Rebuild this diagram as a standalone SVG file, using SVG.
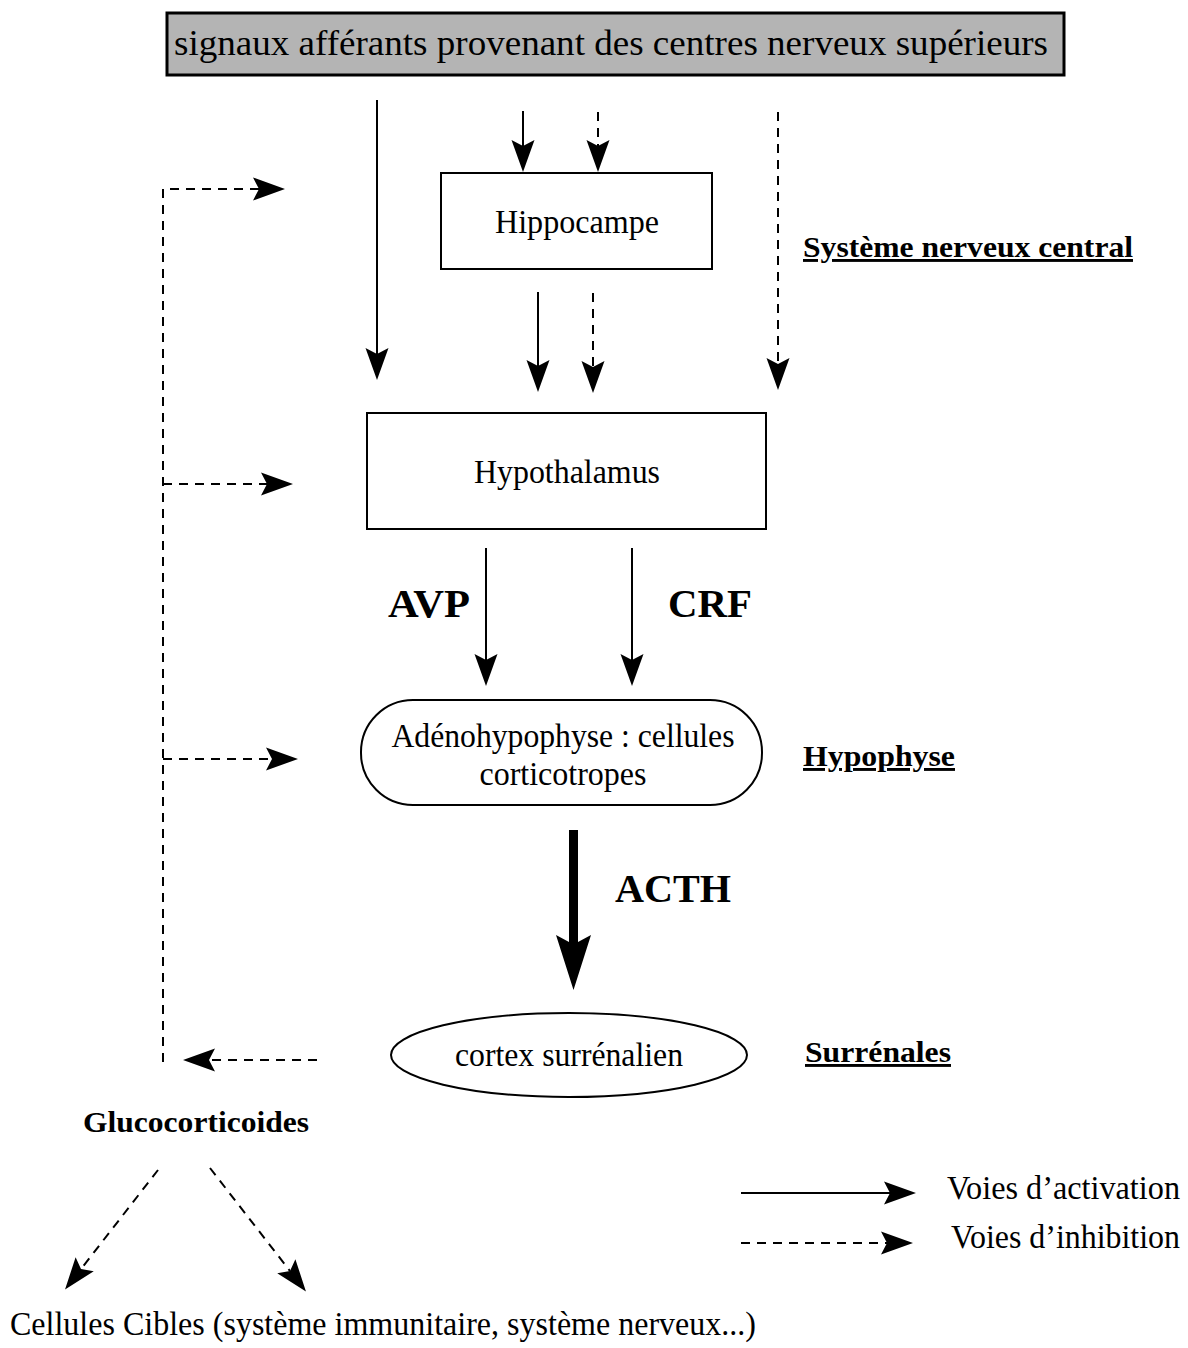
<svg xmlns="http://www.w3.org/2000/svg" width="1188" height="1348" viewBox="0 0 1188 1348">
<style>
  text { font-family: "Liberation Serif", "Times New Roman", serif; fill: #000; }
  .reg { font-size: 33px; }
  .lbl { font-size: 29px; font-weight: bold; text-decoration: underline; }
  .hor { font-size: 40px; font-weight: bold; }
  .box { fill: #fff; stroke: #000; stroke-width: 2; }
  .s { stroke: #000; stroke-width: 2; fill: none; }
  .d { stroke: #000; stroke-width: 2; fill: none; stroke-dasharray: 9 7; }
</style>
<defs>
  <marker id="ah" viewBox="-7 -13 34 26" refX="0" refY="0" markerWidth="34" markerHeight="26" markerUnits="userSpaceOnUse" orient="auto">
    <path d="M0,0 L-6,-11.5 L26,0 L-6,11.5 Z" fill="#000"/>
  </marker>
</defs>

<g id="top">
  <rect x="167" y="13" width="897" height="62" fill="#b4b4b4" stroke="#000" stroke-width="3"/>
  <text x="174" y="55" font-size="36" textLength="874" lengthAdjust="spacingAndGlyphs">signaux afférants provenant des centres nerveux supérieurs</text>
</g>

<g id="hippocampe">
  <rect class="box" x="441" y="173" width="271" height="96"/>
  <text class="reg" x="577" y="233" text-anchor="middle" textLength="164" lengthAdjust="spacingAndGlyphs">Hippocampe</text>
</g>

<g id="snc-label">
  <text class="lbl" x="803" y="257" textLength="330" lengthAdjust="spacingAndGlyphs">Système nerveux central</text>
</g>

<g id="hypothalamus">
  <rect class="box" x="367" y="413" width="399" height="116"/>
  <text class="reg" x="567" y="483" text-anchor="middle" textLength="186" lengthAdjust="spacingAndGlyphs">Hypothalamus</text>
</g>

<g id="adenohypophyse">
  <rect class="box" x="361" y="700" width="401" height="105" rx="52" ry="52"/>
  <text class="reg" x="563" y="747" text-anchor="middle" textLength="343" lengthAdjust="spacingAndGlyphs">Adénohypophyse : cellules</text>
  <text class="reg" x="563" y="785" text-anchor="middle" textLength="167" lengthAdjust="spacingAndGlyphs">corticotropes</text>
</g>

<g id="hypophyse-label">
  <text class="lbl" x="803" y="766" textLength="152" lengthAdjust="spacingAndGlyphs">Hypophyse</text>
</g>

<g id="cortex">
  <ellipse class="box" cx="569" cy="1055" rx="178" ry="42"/>
  <text class="reg" x="569" y="1066" text-anchor="middle" textLength="228" lengthAdjust="spacingAndGlyphs">cortex surrénalien</text>
</g>

<g id="surrenales-label">
  <text class="lbl" x="805" y="1062" textLength="146" lengthAdjust="spacingAndGlyphs">Surrénales</text>
</g>

<g id="glucocorticoides">
  <text x="83" y="1132" font-size="29" font-weight="bold" textLength="226" lengthAdjust="spacingAndGlyphs">Glucocorticoides</text>
</g>

<g id="cibles">
  <text class="reg" x="10" y="1335" textLength="746" lengthAdjust="spacingAndGlyphs">Cellules Cibles (système immunitaire, système nerveux...)</text>
</g>

<g id="hormones">
  <text class="hor" x="388" y="617" textLength="82" lengthAdjust="spacingAndGlyphs">AVP</text>
  <text class="hor" x="668" y="617" textLength="84" lengthAdjust="spacingAndGlyphs">CRF</text>
  <text class="hor" x="615" y="902" textLength="116" lengthAdjust="spacingAndGlyphs">ACTH</text>
</g>

<g id="connectors">
  <line class="s" x1="377" y1="100" x2="377" y2="354" marker-end="url(#ah)"/>
  <line class="s" x1="523" y1="111" x2="523" y2="146" marker-end="url(#ah)"/>
  <line class="d" x1="598" y1="112" x2="598" y2="146" marker-end="url(#ah)"/>
  <line class="d" x1="778" y1="112" x2="778" y2="364" marker-end="url(#ah)"/>
  <line class="s" x1="538" y1="292" x2="538" y2="366" marker-end="url(#ah)"/>
  <line class="d" x1="593" y1="293" x2="593" y2="367" marker-end="url(#ah)"/>
  <line class="s" x1="486" y1="548" x2="486" y2="660" marker-end="url(#ah)"/>
  <line class="s" x1="632" y1="548" x2="632" y2="660" marker-end="url(#ah)"/>
  <path d="M569,830 L578,830 L578,942 L591,935 L573.5,990 L556,935 L569,942 Z" fill="#000"/>
  <polyline class="d" points="163,1062 163,189 259,189" marker-end="url(#ah)"/>
  <line class="d" x1="163" y1="484" x2="267" y2="484" marker-end="url(#ah)"/>
  <line class="d" x1="163" y1="759" x2="272" y2="759" marker-end="url(#ah)"/>
  <line class="d" x1="317" y1="1060" x2="209" y2="1060" marker-end="url(#ah)"/>
  <line class="d" x1="158" y1="1170" x2="81" y2="1269" marker-end="url(#ah)"/>
  <line class="d" x1="210" y1="1168" x2="290" y2="1271" marker-end="url(#ah)"/>
</g>

<g id="legend">
  <line class="s" x1="741" y1="1193" x2="890" y2="1193" marker-end="url(#ah)"/>
  <line class="d" x1="741" y1="1243" x2="887" y2="1243" marker-end="url(#ah)"/>
  <text class="reg" x="947" y="1199" textLength="233" lengthAdjust="spacingAndGlyphs">Voies d’activation</text>
  <text class="reg" x="951" y="1248" textLength="229" lengthAdjust="spacingAndGlyphs">Voies d’inhibition</text>
</g>
</svg>
